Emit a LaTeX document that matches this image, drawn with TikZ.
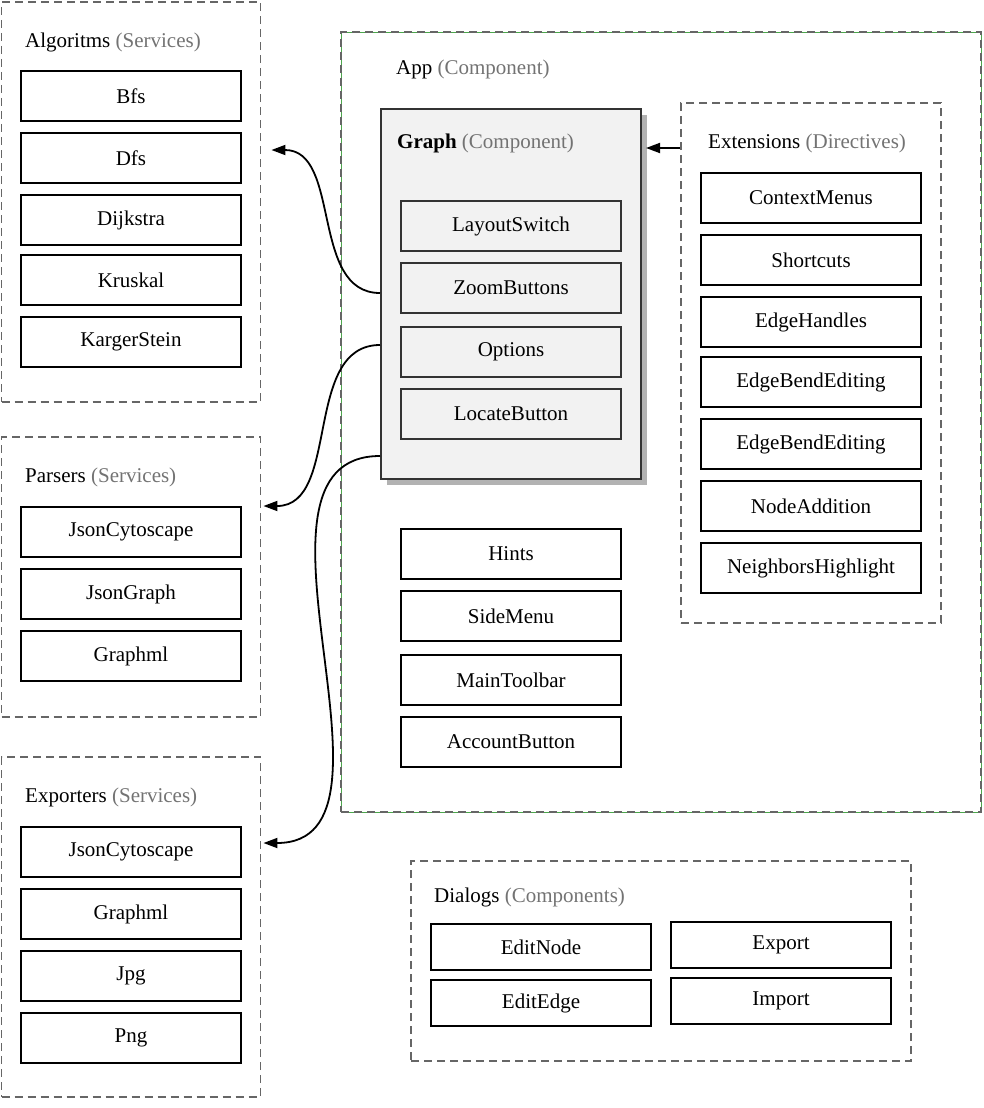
\documentclass[tikz,border=0pt]{standalone}
\usepackage{fontspec}
\setmainfont{Liberation Serif}
\usetikzlibrary{arrows.meta,shadows}
\begin{document}
\begin{tikzpicture}[x=1pt,y=-1pt,
  every node/.style={font=\fontsize{21}{25}\selectfont},
  group/.style={draw=black!60,line width=1.9pt,dash pattern=on 8pt off 5pt,inner sep=0pt},
  item/.style={draw=black,line width=2pt,fill=white,minimum width=220,minimum height=50,inner sep=0pt},
  subitem/.style={item,draw=black!80,fill=black!5},
  title/.style={anchor=west,inner sep=0pt},
  link/.style={-{Triangle[length=14pt,width=10pt]},line width=1.8pt}]
\useasboundingbox (0,0) rectangle (984,1108);
%% services
\node [group, minimum width=259, minimum height=400] (algo) at (131,202) {};
\node [title] at (25,42) {Algoritms \textcolor{black!55}{(Services)}};
\node [item] (bfs) at (131,96) {Bfs};
\node [item] (dfs) at (131,158) {Dfs};
\node [item] (dijkstra) at (131,220) {Dijkstra};
\node [item] (kruskal) at (131,280) {Kruskal};
\node [item] (karger) at (131,342) {KargerStein};
\node [group, minimum width=259, minimum height=280] (parsers) at (131,577) {};
\node [title] at (25,477) {Parsers \textcolor{black!55}{(Services)}};
\node [item] (pjson) at (131,532) {JsonCytoscape};
\node [item] (pgraph) at (131,594) {JsonGraph};
\node [item] (pgraphml) at (131,656) {Graphml};
\node [group, minimum width=259, minimum height=340] (exporters) at (131,927) {};
\node [title] at (25,797) {Exporters \textcolor{black!55}{(Services)}};
\node [item] (ejson) at (131,852) {JsonCytoscape};
\node [item] (egraphml) at (131,914) {Graphml};
\node [item] (ejpg) at (131,976) {Jpg};
\node [item] (epng) at (131,1038) {Png};
%% app
\node [group, minimum width=640, minimum height=780,
  preaction={draw=green!50!black!70,solid,line width=0.7pt}] (app) at (661,422) {};
\node [title] at (396,69) {App \textcolor{black!55}{(Component)}};
\node [draw=black!80, line width=2pt, fill=black!5, minimum width=260, minimum height=370,
  drop shadow={shadow xshift=6pt,shadow yshift=-6pt,fill=black!30,opacity=1}] (graph) at (511,294) {};
\node [title] (graphlbl) at (397,143) {\textbf{Graph} \textcolor{black!55}{(Component)}};
\node [subitem] (layout) at (511,226) {LayoutSwitch};
\node [subitem] (zoom) at (511,288) {ZoomButtons};
\node [subitem] (options) at (511,352) {Options};
\node [subitem] (locate) at (511,414) {LocateButton};
\node [item] (hints) at (511,554) {Hints};
\node [item] (sidemenu) at (511,616) {SideMenu};
\node [item] (toolbar) at (511,680) {MainToolbar};
\node [item] (account) at (511,742) {AccountButton};
\node [group, minimum width=260, minimum height=520] (ext) at (811,363) {};
\node [title] (extlbl) at (708,143) {Extensions \textcolor{black!55}{(Directives)}};
\node [item] (context) at (811,198) {ContextMenus};
\node [item] (shortcuts) at (811,260) {Shortcuts};
\node [item] (handles) at (811,322) {EdgeHandles};
\node [item] (bend) at (811,382) {EdgeBendEditing};
\node [item] (bendtwo) at (811,444) {EdgeBendEditing};
\node [item] (addition) at (811,506) {NodeAddition};
\node [item] (neighbors) at (811,568) {NeighborsHighlight};
%% dialogs
\node [group, minimum width=500, minimum height=200] (dialogs) at (661,961) {};
\node [title] at (434,897) {Dialogs \textcolor{black!55}{(Components)}};
\node [item, minimum height=46] (editnode) at (541,947) {EditNode};
\node [item, minimum height=46] (export) at (781,945) {Export};
\node [item, minimum height=46] (editedge) at (541,1003) {EditEdge};
\node [item, minimum height=46] (import) at (781,1001) {Import};
%% links
\draw [link] ([yshift=-5pt]graph.west |- zoom) to[out=180,in=0] ([xshift=10pt,yshift=8pt]algo.east |- dfs);
\draw [link] ([yshift=7pt]graph.west |- options) to[out=180,in=0] ([xshift=2pt]parsers.east |- pjson.north);
\draw [link] ([yshift=24pt]graph.south west) to[out=180,in=0] ([xshift=2pt,yshift=9pt]exporters.east |- ejson);
\draw [link] ([yshift=-5pt]ext.west |- extlbl) -- ([xshift=4pt,yshift=-5pt]graph.east |- extlbl);
\end{tikzpicture}
\end{document}
